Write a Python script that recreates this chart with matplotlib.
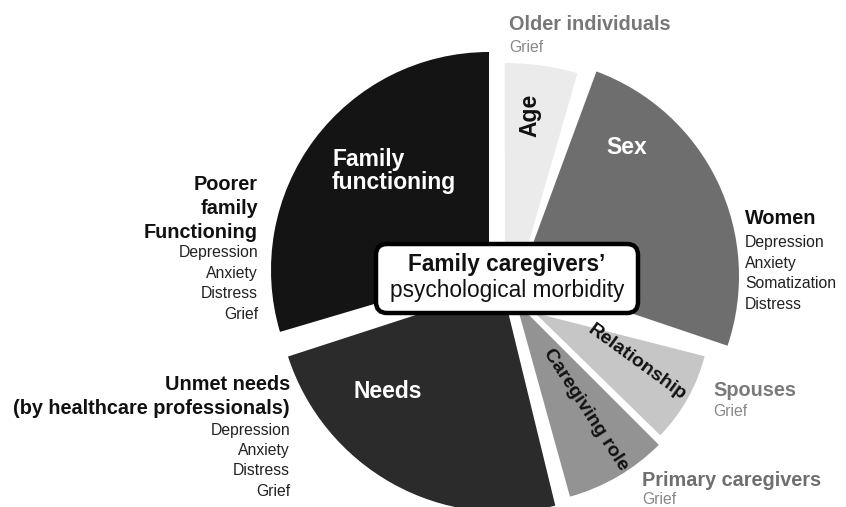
import matplotlib.pyplot as plt
from matplotlib.patches import Wedge, FancyBboxPatch

plt.rcParams['font.family'] = ['Liberation Sans', 'DejaVu Sans']

# Slices, clockwise order starting from the top going counter-clockwise
categories = ['Family\nfunctioning', 'Needs', 'Caregiving role', 'Relationship', 'Sex', 'Age']
values = [106.5, 85.7, 29.5, 30.0, 88.4, 16.1]   # angular share (deg)

# Outcome groups next to each slice
groups = ['Poorer\nfamily\nFunctioning', 'Unmet needs\n(by healthcare professionals)',
          'Primary caregivers', 'Spouses', 'Women', 'Older individuals']
outcomes = [['Depression', 'Anxiety', 'Distress', 'Grief'],
            ['Depression', 'Anxiety', 'Distress', 'Grief'],
            ['Grief'],
            ['Grief'],
            ['Depression', 'Anxiety', 'Somatization', 'Distress'],
            ['Grief']]

# layout / style
gaps = [0, 1.5, 1.8, 0.7, -4.35, 4.2]
centre = (505, 280)
offsets = [(-16, -10), (-3, 7), (11, 22), (30, 33), (16, -4), (0, 45)]
radii = [218, 225, 202, 175, 218, 262]
colors = ['#141414', '#2b2b2b', '#939393', '#c6c6c6', '#6e6e6e', '#ebebeb']
zorders = [2, 2, 2, 2, 2, 1]

label_pos = [(332, 171), (388, 392), (586, 410), (637, 362), (627, 148), (530, 115)]
label_rot = [0, 0, -57, -36, 0, 90]
label_col = ['white', 'white', '#111111', '#111111', 'white', '#111111']
label_ha = ['left', 'center', 'center', 'center', 'center', 'center']
label_size = [16.5, 16.5, 14, 14, 16.5, 16.5]

grp_x = [258, 290, 642, 713, 745, 509]
grp_ha = ['right', 'right', 'left', 'left', 'left', 'left']
grp_y = [185, 384, 480, 390, 219, 25]
desc_y = [253, 430, 500, 412, 243, 47]
grp_col = ['#111111', '#111111', '#6f6f6f', '#7a7a7a', '#111111', '#777777']
desc_col = ['#222222', '#222222', '#888888', '#888888', '#222222', '#888888']

fig = plt.figure(figsize=(8.46, 5.07), dpi=100)
ax = fig.add_axes([0, 0, 1, 1])
ax.set_xlim(0, 846)
ax.set_ylim(507, 0)
ax.axis('off')

# wedges (y axis is inverted, so angles are negated)
a1 = 90
for i, v in enumerate(values):
    a1 = a1 + gaps[i]
    a2 = a1 + v
    cx = centre[0] + offsets[i][0]
    cy = centre[1] + offsets[i][1]
    ax.add_patch(Wedge((cx, cy), radii[i], -a2, -a1, facecolor=colors[i],
                       edgecolor='none', zorder=zorders[i]))
    ax.text(label_pos[i][0], label_pos[i][1], categories[i], color=label_col[i],
            fontsize=label_size[i], fontweight='bold', ha=label_ha[i], va='center',
            rotation=label_rot[i], rotation_mode='anchor', linespacing=1.05, zorder=5)
    a1 = a2

# outcome labels
for i, g in enumerate(groups):
    for j, line in enumerate(g.split('\n')):
        ax.text(grp_x[i], grp_y[i] + j * 24, line, color=grp_col[i], fontsize=14.3,
                fontweight='bold', ha=grp_ha[i], va='center', zorder=5)
    for j, line in enumerate(outcomes[i]):
        ax.text(grp_x[i], desc_y[i] + j * 20.4, line, color=desc_col[i], fontsize=11.3,
                ha=grp_ha[i], va='center', zorder=5)

# centre box
ax.add_patch(FancyBboxPatch((376, 244), 262, 69, boxstyle='round,pad=0,rounding_size=11',
                            facecolor='white', edgecolor='black', linewidth=3.2, zorder=6))
ax.text(507, 265, "Family caregivers\u2019", fontsize=16.3, fontweight='bold',
        ha='center', va='center', color='#111111', zorder=7)
ax.text(507, 291, 'psychological morbidity', fontsize=16.3,
        ha='center', va='center', color='#111111', zorder=7)

fig.savefig('out.png', dpi=100)
